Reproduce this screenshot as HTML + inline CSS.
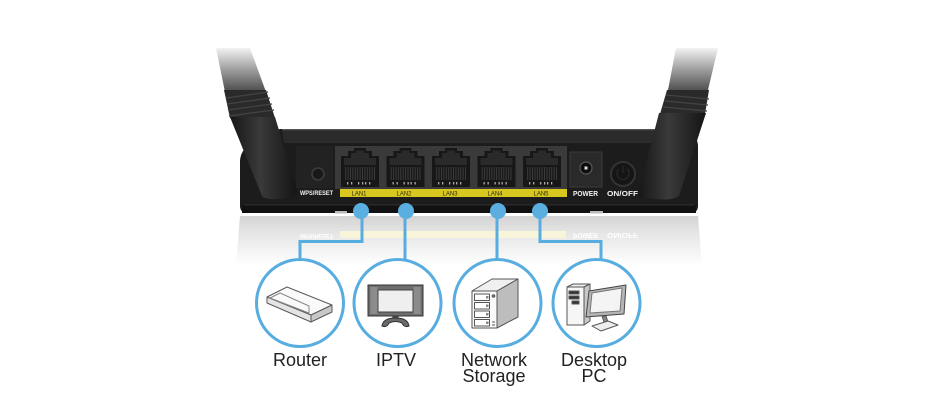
<!DOCTYPE html>
<html><head><meta charset="utf-8">
<style>
html,body{margin:0;padding:0;background:#fff;}
svg{display:block}
</style></head><body>
<svg width="945" height="400" viewBox="0 0 945 400" xmlns="http://www.w3.org/2000/svg">
<defs>
 <linearGradient id="refl" x1="0" y1="215" x2="0" y2="265" gradientUnits="userSpaceOnUse">
  <stop offset="0" stop-color="#d2d2d2"/>
  <stop offset="0.35" stop-color="#e5e5e5"/>
  <stop offset="1" stop-color="#ffffff"/>
 </linearGradient>
 <linearGradient id="fade" x1="0" y1="45" x2="0" y2="100" gradientUnits="userSpaceOnUse">
  <stop offset="0" stop-color="#ffffff"/>
  <stop offset="0.4" stop-color="#a8a8a8"/>
  <stop offset="1" stop-color="#2c2c2c"/>
 </linearGradient>
 <linearGradient id="cyl" x1="0" y1="0" x2="1" y2="0">
  <stop offset="0" stop-color="#161616"/>
  <stop offset="0.45" stop-color="#3a3a3a"/>
  <stop offset="1" stop-color="#141414"/>
 </linearGradient>
 <pattern id="stripes" width="2.4" height="14" patternUnits="userSpaceOnUse">
  <rect x="0" y="0" width="1" height="14" fill="#3c3c3c"/>
 </pattern>
 <g id="port">
  <path d="M3 156 H10 V151 H16 V148 H28 V151 H34 V156 H41 V187 H3 Z" fill="#171717"/>
  <path d="M6 158 H13 V153 H18 V150.5 H26 V153 H31 V158 H38 V165 H6 Z" fill="#2a2a2a"/>
  <rect x="7" y="167" width="30" height="13" fill="url(#stripes)"/>
  <rect x="9" y="182" width="1.3" height="2.5" fill="#aaa"/>
  <rect x="13" y="182" width="1.3" height="2.5" fill="#aaa"/>
  <rect x="20" y="182" width="1.3" height="2.5" fill="#aaa"/>
  <rect x="24" y="182" width="1.3" height="2.5" fill="#aaa"/>
  <rect x="27" y="182" width="1.3" height="2.5" fill="#aaa"/>
  <rect x="31" y="182" width="1.3" height="2.5" fill="#aaa"/>
 </g>
</defs>

<!-- reflection -->
<path d="M240 216 L698 216 L702 264 L236 264 Z" fill="url(#refl)"/>
<rect x="340" y="231" width="226" height="7" fill="#f8f5da"/>
<g transform="translate(0,429) scale(1,-1)" font-family="Liberation Sans, sans-serif" font-weight="bold" fill="#ffffff">
 <text x="300" y="195" font-size="6.5" textLength="33" lengthAdjust="spacingAndGlyphs">WPS/RESET</text>
 <text x="573" y="196" font-size="7.5" textLength="25" lengthAdjust="spacingAndGlyphs">POWER</text>
 <text x="607" y="196" font-size="7.5" textLength="31" lengthAdjust="spacingAndGlyphs">ON/OFF</text>
</g>

<!-- router body -->
<path d="M280 129 L688 129 Q696 132 698 145 L698 206 Q698 213 690 213 L248 213 Q240 213 240 206 L240 160 Q242 140 280 129 Z" fill="#1c1c1c"/>
<path d="M282 129 L688 129 L691 143 L284 143 Z" fill="#2b2b2b"/>
<line x1="282" y1="129.6" x2="688" y2="129.6" stroke="#555" stroke-width="1.2"/>
<rect x="242" y="205" width="454" height="8" fill="#111"/>
<line x1="244" y1="205" x2="694" y2="205" stroke="#2f2f2f" stroke-width="1"/>
<rect x="335" y="211" width="12" height="2.5" fill="#bbb"/>
<rect x="590" y="211" width="13" height="2.5" fill="#bbb"/>

<!-- WPS area -->
<rect x="296" y="146" width="37" height="42" fill="#222"/>
<circle cx="318" cy="174" r="6" fill="#191919" stroke="#3e3e3e" stroke-width="1.5"/>

<!-- port panel -->
<rect x="335" y="146" width="232" height="43" fill="#3a3a3a"/>
<use href="#port" x="338" y="0"/>
<use href="#port" x="383.5" y="0"/>
<use href="#port" x="429" y="0"/>
<use href="#port" x="474.5" y="0"/>
<use href="#port" x="520" y="0"/>
<rect x="340" y="189" width="227" height="8" fill="#d8c71f"/>
<g font-family="Liberation Sans, sans-serif" font-size="6" fill="#2a2a10" text-anchor="middle">
 <text x="359" y="195.5">LAN1</text>
 <text x="404" y="195.5">LAN2</text>
 <text x="450" y="195.5">LAN3</text>
 <text x="495" y="195.5">LAN4</text>
 <text x="541" y="195.5">LAN5</text>
</g>
<g font-family="Liberation Sans, sans-serif" font-weight="bold" fill="#f2f2f2">
 <text x="300" y="195" font-size="6.5" textLength="33" lengthAdjust="spacingAndGlyphs">WPS/RESET</text>
 <text x="573" y="196" font-size="7.5" textLength="25" lengthAdjust="spacingAndGlyphs">POWER</text>
 <text x="607" y="196" font-size="7.5" textLength="31" lengthAdjust="spacingAndGlyphs">ON/OFF</text>
</g>

<!-- power jack -->
<rect x="570" y="152" width="32" height="35" fill="#2a2a2a" stroke="#3a3a3a" stroke-width="1"/>
<circle cx="586" cy="168" r="6" fill="#0e0e0e" stroke="#5a5a5a" stroke-width="1.2"/>
<rect x="584.5" y="166.5" width="3" height="3" fill="#ddd"/>
<!-- on/off button -->
<circle cx="623" cy="174" r="12" fill="#151515" stroke="#333" stroke-width="2"/>
<path d="M619 169 A6 6 0 1 0 627 169" fill="none" stroke="#2a2a2a" stroke-width="1.2"/>
<line x1="623" y1="166" x2="623" y2="173" stroke="#2a2a2a" stroke-width="1.2"/>

<!-- left antenna -->
<polygon points="216,48 250,48 266,92 225,92" fill="url(#fade)"/>
<polygon points="224,90 266,90 275,118 230,118" fill="#2a2a2a"/>
<g stroke="#444" stroke-width="1.2">
 <line x1="226" y1="98" x2="268" y2="92"/>
 <line x1="227" y1="104" x2="270" y2="98"/>
 <line x1="228" y1="110" x2="272" y2="104"/>
 <line x1="229" y1="116" x2="274" y2="110"/>
</g>
<path d="M230 117 L275 117 L297 190 Q296 198 280 199 Q265 200 262 196 Z" fill="url(#cyl)"/>

<!-- right antenna -->
<polygon points="676,48 718,48 708,90 668,90" fill="url(#fade)"/>
<polygon points="667,90 709,90 705,114 660,114" fill="#2a2a2a"/>
<g stroke="#444" stroke-width="1.2">
 <line x1="666" y1="95" x2="709" y2="99"/>
 <line x1="665" y1="101" x2="708" y2="105"/>
 <line x1="663" y1="107" x2="707" y2="111"/>
</g>
<path d="M659 113 L706 113 L679 196 Q672 201 655 199 Q640 198 638 195 Z" fill="url(#cyl)"/>

<!-- connectors -->
<g fill="none" stroke="#58ade0" stroke-width="3">
 <path d="M362 211 V241.5 H300 V260"/>
 <path d="M405 211 V260"/>
 <path d="M497 211 V260"/>
 <path d="M540 211 V241.5 H601 V260"/>
</g>
<g fill="#5aaee0">
 <circle cx="361" cy="211" r="8"/>
 <circle cx="406" cy="211" r="8"/>
 <circle cx="498" cy="211" r="8"/>
 <circle cx="540" cy="211" r="8"/>
</g>

<!-- circles -->
<g fill="#fff" stroke="#58ade0" stroke-width="3">
 <circle cx="300" cy="303" r="43.5"/>
 <circle cx="397.5" cy="303" r="43.5"/>
 <circle cx="497.5" cy="303" r="43.5"/>
 <circle cx="596.5" cy="303" r="43.5"/>
</g>

<!-- router icon -->
<g stroke="#5a5a5a" stroke-width="1" stroke-linejoin="round">
 <polygon points="267,297 287,287 332,305 311,315" fill="#fafafa"/>
 <polygon points="267,297 311,315 311,322 267,303" fill="#e4e4e4"/>
 <polygon points="311,315 332,305 332,312 311,322" fill="#c8c8c8"/>
 <polygon points="270,298 280,293 309,306 309,313" fill="none" stroke="#888"/>
</g>

<!-- TV icon -->
<g stroke="#333" stroke-width="1">
 <rect x="368" y="285" width="55" height="31" fill="#6e6e6e"/>
 <rect x="370.5" y="287" width="7" height="27" fill="#8c8c8c" stroke="none"/>
 <rect x="413.5" y="287" width="7" height="27" fill="#8c8c8c" stroke="none"/>
 <rect x="378" y="290" width="35" height="22" fill="#efefef" stroke="#444"/>
 <rect x="393" y="316" width="5" height="4" fill="#555"/>
 <path d="M382 326 Q383 318 395.5 318 Q408 318 409 326 Q404 328 402 323 Q395.5 320 389 323 Q387 328 382 326 Z" fill="#6a6a6a"/>
</g>

<!-- NAS icon -->
<g stroke="#555" stroke-width="1" stroke-linejoin="round">
 <polygon points="472,291 492,279 518,279 497,291" fill="#f0f0f0"/>
 <polygon points="497,291 518,279 518,317 497,328" fill="#bdbdbd"/>
 <rect x="472" y="291" width="25" height="37" fill="#fafafa"/>
 <rect x="474.5" y="294" width="15" height="6.5" fill="#fff"/>
 <rect x="474.5" y="302.5" width="15" height="6.5" fill="#fff"/>
 <rect x="474.5" y="311" width="15" height="6.5" fill="#fff"/>
 <rect x="474.5" y="319.5" width="15" height="6.5" fill="#fff"/>
 <circle cx="493.5" cy="296" r="1.3" fill="#888"/>
 <line x1="492" y1="322" x2="495" y2="322"/>
 <line x1="492" y1="325" x2="495" y2="325"/>
</g>
<g fill="#888">
 <rect x="486" y="296" width="2.5" height="2.5"/>
 <rect x="486" y="304.5" width="2.5" height="2.5"/>
 <rect x="486" y="313" width="2.5" height="2.5"/>
 <rect x="486" y="321.5" width="2.5" height="2.5"/>
</g>

<!-- PC icon -->
<g stroke="#555" stroke-width="1" stroke-linejoin="round">
 <polygon points="567,287 573,284 590,284 584,287" fill="#eee"/>
 <polygon points="584,287 590,284 590,321 584,325" fill="#c8c8c8"/>
 <rect x="567" y="287" width="17" height="38" fill="#f6f6f6"/>
 <rect x="569" y="291" width="10" height="3" fill="#333"/>
 <rect x="569" y="296" width="10" height="3" fill="#333"/>
 <rect x="572" y="301" width="7" height="3" fill="#333"/>
 <polygon points="602,316 606,316 608,322 604,322" fill="#888"/>
 <polygon points="592,326 608,321 618,325 601,331" fill="#eee"/>
 <polygon points="589,291 626,285 624,314 586,317" fill="#b5b5b5" stroke="#444"/>
 <polygon points="592,293 622,288 620,311 590,313" fill="#f4f4f4" stroke="#777"/>
</g>

<!-- labels -->
<g font-family="Liberation Sans, sans-serif" font-size="18" fill="#222" text-anchor="middle">
 <text x="300" y="366">Router</text>
 <text x="396" y="366">IPTV</text>
 <text x="494" y="366">Network</text>
 <text x="494" y="382">Storage</text>
 <text x="594" y="366">Desktop</text>
 <text x="594" y="382">PC</text>
</g>
</svg>
</body></html>
